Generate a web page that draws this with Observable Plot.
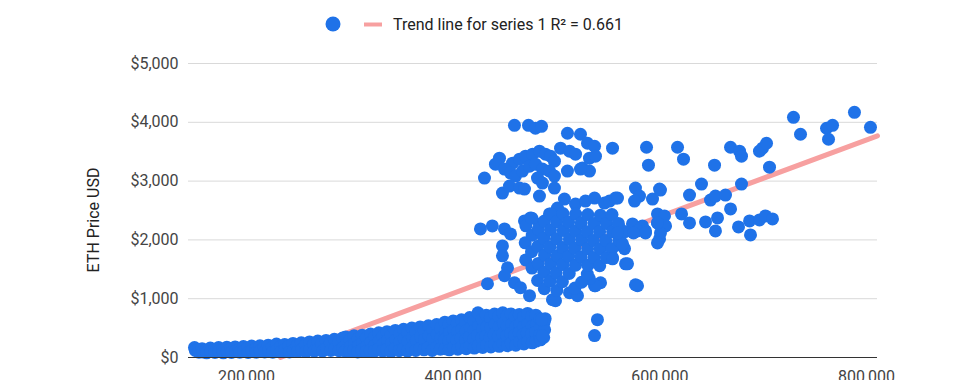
<!DOCTYPE html>
<html><head><meta charset="utf-8">
<script src="https://cdn.jsdelivr.net/npm/d3@7"></script>
<script src="https://cdn.jsdelivr.net/npm/@observablehq/plot@0.6"></script>
<style>
body{margin:0;background:#fff;font-family:Roboto,"Noto Sans",sans-serif;}
#legend,#chart{width:960px;}
#legend{height:48px;}
</style></head><body>
<div id="legend"></div>
<div id="chart"></div>
<script>
const xTicks = [200000, 400000, 600000, 800000];
const yTicks = [0, 1000, 2000, 3000, 4000, 5000];
const xDomain = [143900, 810600];
const yDomain = [0, 5000];
const trendSlope = 0.006526;
const trendIntercept = -1520;
const legendLabel = "Trend line for series 1 R\u00b2 = 0.661";
const yTitle = "ETH Price USD";

const lowBand = [
[149700,170],[150500,120],[153500,130],[154000,90],[157000,150],[157800,95],[161000,120],[161500,80],
[165000,160],[165600,100],[169000,140],[169500,85],[173000,170],[173400,110],[177000,130],[177600,80],
[181000,175],[181300,100],[185000,150],[185500,85],[189000,180],[189400,110],[193000,140],[193500,90],
[197000,185],[197300,105],[201000,160],[201600,85],[205000,195],[205400,115],[209000,150],[209500,90],
[213000,200],[213300,110],[217000,170],[217600,95],[221000,210],[221400,120],[225000,175],[225500,90],
[229000,230],[229300,120],[233000,185],[233600,100],[237000,220],[237400,130],[241000,195],[241500,95],
[245000,240],[245300,120],[249000,200],[249600,105],[253000,250],[253400,130],[257000,210],[257500,100],
[261000,265],[261300,135],[265000,225],[265600,110],[269000,280],[269400,140],[273000,235],[273500,110],
[277000,290],[277300,150],[281000,250],[281600,120],[285000,310],[285400,145],[289000,260],[289500,115],
[293000,330],[293300,160],
[296000,350],[296500,220],[295600,110],[300000,300],[300400,180],[299700,100],[304000,370],[304600,240],[303800,120],
[308000,320],[308300,200],[307600,95],[312000,380],[312500,250],[311700,130],[316000,330],[316400,190],[315800,100],
[320000,400],[320600,260],[319800,120],[324000,350],[324300,210],[323700,105],[328000,420],[328500,280],[327600,140],
[332000,360],[332400,230],[331800,110],[336000,440],[336600,290],[335700,130],[340000,380],[340300,240],[339800,100],
[344000,460],[344500,300],[343600,150],[348000,400],[348400,260],[347700,115],[352000,480],[352600,320],[351800,140],
[356000,420],[356300,270],[355700,110],[360000,500],[360500,340],[359600,160],[364000,440],[364400,290],[363800,120],
[368000,520],[368600,350],[367700,150],[372000,460],[372300,300],[371800,130],[376000,540],[376500,370],[375600,160],
[380000,480],[380400,320],[379700,120],[384000,560],[384600,390],[383800,170],[388000,500],[388300,330],[387600,140],
[392000,600],[392500,450],[391600,300],[392300,150],[396000,560],[396400,420],[395700,280],[396200,130],
[400000,620],[400600,470],[399800,320],[400300,170],[404000,580],[404300,430],[403700,290],[404500,140],
[408000,640],[408500,480],[407600,330],[408200,180],[412000,600],[412400,450],[411800,300],[412600,150],
[416000,680],[416600,500],[415700,350],[416300,190],[420000,620],[420300,460],[419800,310],[420500,160],
[424000,760],[424500,540],[423600,380],[424200,200],[428000,650],[428400,480],[427700,330],[428600,170],
[432000,720],[432600,520],[431800,360],[432300,210],[436000,680],[436300,500],[435700,340],[436500,180],
[440000,740],[440500,560],[439600,390],[440200,220],[444000,700],[444400,520],[443800,360],[444600,190],
[448000,760],[448600,580],[447700,400],[448300,230],[452000,710],[452300,530],[451800,370],[452500,200],
[456000,740],[456500,560],[455600,410],[456200,240],[460000,700],[460400,520],[459700,380],[460600,210],
[464000,730],[464600,560],[463800,420],[464300,260],[468000,690],[468300,520],[467700,390],[468500,230],
[472000,750],[472500,570],[471600,420],[472200,270],[476000,700],[476400,530],[475800,400],[476600,250],
[480000,720],[480600,560],[479700,430],[480300,280],[484000,660],[484300,500],[483800,380],[484500,300],
[488000,600],[488500,470],[487600,340],[489000,660]
];

const upperCluster = [
[459300,3949],[472900,3949],[479600,3899],[485500,3932],[510600,3814],[523200,3797],[530000,3644],[536800,3593],
[554200,3560],[503900,3560],[512600,3509],[518400,3458],[531900,3390],[537700,3424],[525100,3221],[531900,3170],
[510600,3170],[444800,3390],[440900,3288],[457400,3305],[464200,3373],[470000,3424],[476800,3458],[483500,3509],
[489300,3458],[494200,3424],[498000,3339],[449700,3204],[455500,3136],[460300,3085],[467100,3170],[473900,3254],
[479600,3288],[486400,3204],[493200,3170],[498000,3085],[430300,3051],[447700,2797],[454500,2915],[464200,2882],
[469000,2865],[483500,2746],[498000,2882],[481600,3051],[486400,2966],[523200,3204]
];

const middleCluster = [
[426400,2187],[437900,2237],[449700,2187],[455500,2102],[447700,1898],[447700,1729],[452600,1526],[449700,1390],
[433200,1254],[459300,1271],[465100,1187],[473900,1051],[496100,983],[512600,1102],[520300,1051],[536800,1220],
[542600,1271],[566800,1593],[578400,1220],[469000,2322],[474800,2373],[483500,2271],[493200,2441],[500900,2542],
[507700,2695],[518400,2610],[528000,2661],[536800,2712],[546400,2627],[551300,2661],[557100,2712],[576400,2882],
[580300,2746],[575500,2661],[592900,2695],[599700,2865],[559000,2712],[573500,2271],[583200,2237],[586100,2153],
[578400,2153],[597700,2288],[599700,2017],[560900,2204],[561900,1983],[544500,2373],[537700,1220],[531900,1339],
[554200,1695],[563900,1898],[499000,966],[485500,644],[486400,373],[539600,644],[536800,373],
[470200,1660],[469700,1950],[470400,2240],
[476300,1520],[475800,1800],[476500,2080],[476100,2370],
[481700,1310],[482300,1600],[481900,1890],[482400,2180],
[488200,1170],[487800,1450],[488500,1740],[487600,2030],[488300,2320],
[493800,1300],[494400,1590],[493600,1880],[494200,2170],[494500,2440],
[500300,1140],[499700,1440],[500500,1730],[499900,2020],[500200,2310],
[505700,1290],[506300,1580],[505900,1870],[506500,2160],[506100,2450],
[512300,1430],[511800,1720],[512500,2010],[511700,2300],
[517800,1180],[518400,1570],[517600,1860],[518200,2150],[518500,2440],
[524300,1280],[523700,1710],[524400,2000],[523900,2290],
[529800,1420],[530400,1570],[530100,1850],[529700,2140],[530300,2430],
[536200,1700],[535800,1990],[536400,2280],
[541800,1560],[542300,1850],[541700,2140],[542500,2420],
[548200,1700],[547700,1990],[548400,2280],
[553800,1850],[554300,2140],[553700,2430],
[560200,1990],[559800,2280],
[565800,1850],[566300,2140]
];

const rightScatter = [
[587100,3576],[589000,3271],[617100,3576],[622900,3373],[652900,3271],[668400,3576],[677100,3509],[679000,3424],
[696400,3509],[699300,3560],[703200,3644],[706100,3237],[729300,4085],[736100,3797],[761300,3899],[767100,3949],
[763200,3712],[788300,4170],[803800,3915],[640300,2949],[679000,2949],[628700,2763],[649000,2678],[653800,2746],
[663500,2763],[668400,2526],[600600,2848],[621000,2441],[628700,2288],[644200,2305],[655800,2373],[653800,2153],
[676100,2220],[687700,2085],[686800,2322],[696400,2339],[702200,2407],[709000,2356],[597700,2441],[604500,2407],
[605500,2237],[600600,2119],[597700,1949],[597700,2288],[586100,2119],[574500,2119],[568700,1593],[576400,1237],
[554200,1678],[563900,1932],[559000,2119]
];

const dotColor = "#1f72e8";
const trendColor = "#f7a0a0";

// Legend
const leg = d3.select("#legend").append("svg").attr("width", 960).attr("height", 48);
leg.append("circle").attr("cx", 333).attr("cy", 24).attr("r", 7.5).attr("fill", dotColor);
leg.append("line").attr("x1", 364).attr("x2", 382).attr("y1", 24.5).attr("y2", 24.5)
  .attr("stroke", trendColor).attr("stroke-width", 4);
leg.append("text").attr("x", 393).attr("y", 30).attr("font-size", 16).attr("fill", "#222")
  .attr("font-family", "Roboto").text(legendLabel);

const data = [...lowBand, ...upperCluster, ...middleCluster, ...rightScatter].map(([x, y]) => ({x, y}));
const trendStart = -trendIntercept / trendSlope;
const trend = [trendStart, xDomain[1]].map(x => ({x, y: trendSlope * x + trendIntercept}));

const chart = Plot.plot({
  width: 960, height: 340,
  marginLeft: 188, marginRight: 83, marginTop: 15, marginBottom: 31,
  style: {fontFamily: "Roboto", fontSize: "16px", color: "#444", background: "transparent", overflow: "visible"},
  x: {domain: xDomain},
  y: {domain: yDomain},
  marks: [
    Plot.gridY(yTicks, {stroke: "#d9d9d9", strokeOpacity: 1}),
    Plot.line(trend, {x: "x", y: "y", stroke: trendColor, strokeWidth: 5}),
    Plot.dot(data, {x: "x", y: "y", r: 6.5, fill: dotColor}),
    Plot.ruleY([0], {stroke: "#333", strokeWidth: 1}),
    Plot.axisX(xTicks, {tickFormat: d3.format(","), tickSize: 0, tickPadding: 13, label: null, fontSize: 16, fill: "#444"}),
    Plot.axisY(yTicks, {tickFormat: d => "$" + d3.format(",")(d), tickSize: 0, tickPadding: 10, label: null, fontSize: 16, fill: "#444"})
  ]
});
document.getElementById("chart").appendChild(chart);
d3.select(chart).append("text")
  .attr("transform", "translate(93,172) rotate(-90)")
  .attr("text-anchor", "middle").attr("dominant-baseline", "central")
  .attr("font-size", 16).attr("fill", "#222").attr("font-family", "Roboto")
  .text(yTitle);
</script>
</body></html>
